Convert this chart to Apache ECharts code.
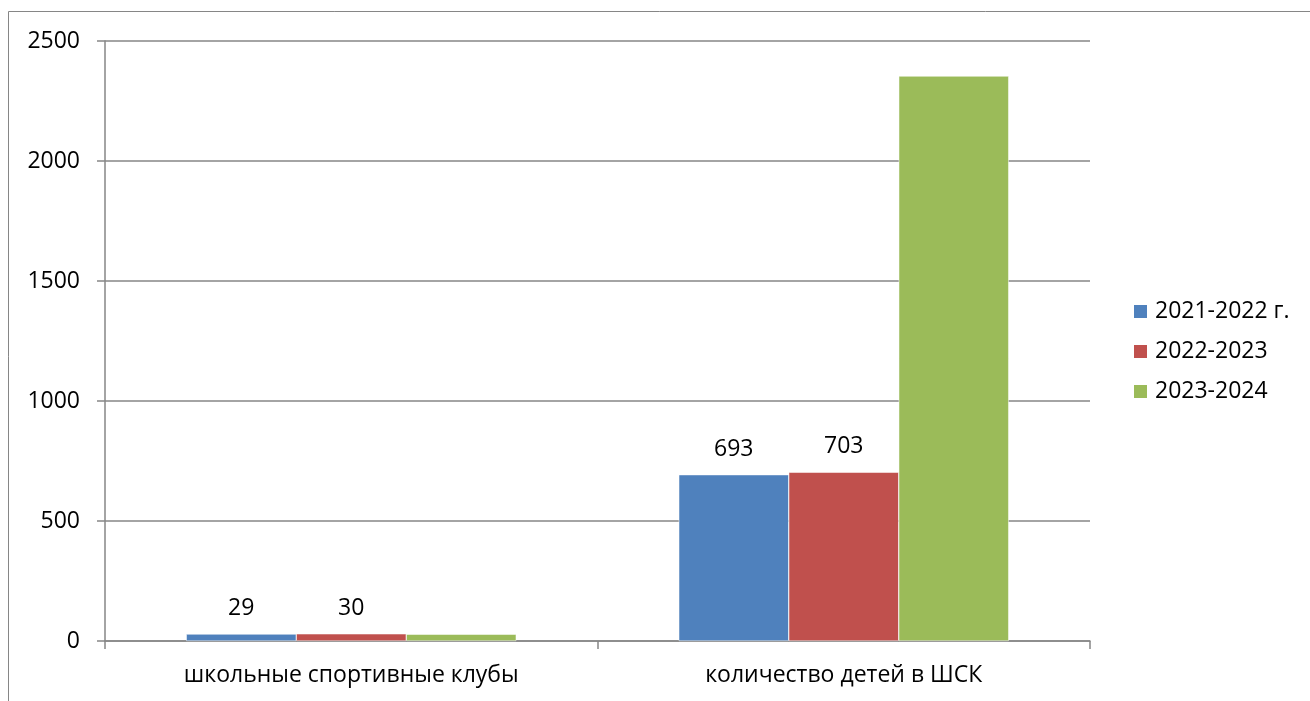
<!DOCTYPE html>
<html>
<head>
<meta charset="utf-8">
<script src="https://cdn.jsdelivr.net/npm/echarts@6/dist/echarts.min.js"></script>
<style>
  html, body { margin: 0; padding: 0; background: #fff; }
  #main { width: 1310px; height: 701px; }
</style>
</head>
<body>
<div id="main"></div>
<script>
// категории и значения
const categories = ['школьные спортивные клубы', 'количество детей в ШСК'];
const seriesNames = ['2021-2022 г.', '2022-2023', '2023-2024'];
const values2021 = [29, 693];
const values2022 = [30, 703];
const values2023 = [28, 2354];
const colors = ['#4f81bd', '#c0504d', '#9bbb59'];

const font = 'Open Sans';
const fontSize = 23;
const axisColor = '#868686';

const chart = echarts.init(document.getElementById('main'), null, { renderer: 'canvas' });

const labelOpt = {
  show: true,
  position: 'top',
  distance: 14,
  color: '#000',
  fontFamily: font,
  fontSize: fontSize
};

const option = {
  backgroundColor: '#fff',
  animation: false,
  textStyle: { fontFamily: font },
  graphic: [{
    type: 'rect',
    shape: { x: 8.5, y: 11.5, width: 1400, height: 800 },
    style: { fill: 'none', stroke: axisColor, lineWidth: 1 },
    silent: true
  }],
  legend: {
    orient: 'vertical',
    left: 1132,
    top: 300,
    padding: 0,
    itemWidth: 15,
    itemHeight: 15,
    itemGap: 17,
    icon: 'rect',
    textStyle: { color: '#000', fontSize: fontSize, lineHeight: 23, fontFamily: font, padding: [0, 0, 0, 2] },
    data: seriesNames
  },
  grid: {
    left: 105,
    right: 220,
    top: 41,
    bottom: 60
  },
  xAxis: {
    type: 'category',
    data: categories,
    axisLine: { lineStyle: { color: axisColor, width: 1.5 } },
    axisTick: { show: true, length: 8, alignWithLabel: false, lineStyle: { color: axisColor, width: 1.5 } },
    axisLabel: { color: '#000', fontSize: fontSize, fontFamily: font, margin: 23 }
  },
  yAxis: {
    type: 'value',
    min: 0,
    max: 2500,
    interval: 500,
    axisLine: { show: true, lineStyle: { color: axisColor, width: 1.5 } },
    axisTick: { show: true, length: 8, lineStyle: { color: axisColor, width: 1.5 } },
    axisLabel: { color: '#000', fontSize: fontSize, fontFamily: font, margin: 25, formatter: v => String(v) },
    splitLine: { lineStyle: { color: axisColor, width: 1.5 } }
  },
  series: [
    {
      name: seriesNames[0], type: 'bar', data: values2021,
      barGap: '0%', barCategoryGap: '33%',
      itemStyle: { color: colors[0], borderColor: '#ffffff', borderWidth: 0.5 },
      label: labelOpt
    },
    {
      name: seriesNames[1], type: 'bar', data: values2022,
      itemStyle: { color: colors[1], borderColor: '#ffffff', borderWidth: 0.5 },
      label: labelOpt
    },
    {
      name: seriesNames[2], type: 'bar', data: values2023,
      itemStyle: { color: colors[2], borderColor: '#ffffff', borderWidth: 0.5 },
      label: { show: false }
    }
  ]
};

chart.setOption(option);
</script>
</body>
</html>
